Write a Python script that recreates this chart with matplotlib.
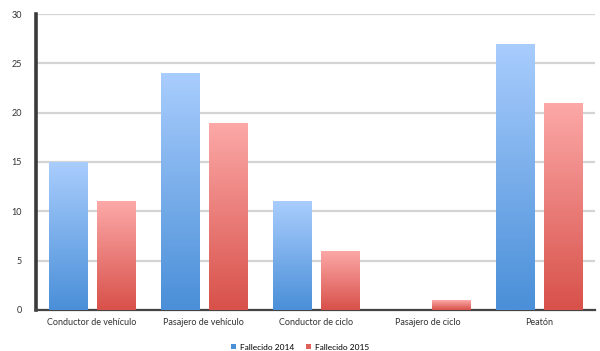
import numpy as np
import matplotlib
matplotlib.use("Agg")
import matplotlib.pyplot as plt
from matplotlib.colors import LinearSegmentedColormap

categories = ["Conductor de vehículo", "Pasajero de vehículo", "Conductor de ciclo",
              "Pasajero de ciclo", "Peatón"]
fallecido_2014 = [15, 24, 11, 0, 27]
fallecido_2015 = [11, 19, 6, 1, 21]
series_labels = ["Fallecido 2014", "Fallecido 2015"]
y_ticks = [0, 5, 10, 15, 20, 25, 30]

plt.rcParams["font.family"] = ["Lato", "DejaVu Sans"]

fig = plt.figure(figsize=(6.0, 3.51), dpi=100)
ax = fig.add_axes([0.06, 0.117, 0.932, 0.843])

x = np.arange(len(categories))
width = 0.34
offset = 0.215

blue_cmap = LinearSegmentedColormap.from_list("b", ["#4a8fd8", "#a9cdfd"])
red_cmap = LinearSegmentedColormap.from_list("r", ["#d8514a", "#fca9a8"])
grad = np.linspace(0, 1, 256).reshape(-1, 1)


def gradient_bars(xs, vals, cmap, color, label):
    bars = ax.bar(xs, vals, width, color=color, label=label, zorder=3)
    for b in bars:
        h = b.get_height()
        if h <= 0:
            continue
        x0 = b.get_x()
        im = ax.imshow(grad, cmap=cmap, origin="lower", aspect="auto",
                       extent=(x0, x0 + b.get_width(), 0, h), zorder=4,
                       interpolation="bilinear")
        im.set_clip_path(b)
    return bars


gradient_bars(x - offset, fallecido_2014, blue_cmap, "#4a8fd8", series_labels[0])
gradient_bars(x + offset, fallecido_2015, red_cmap, "#e0605a", series_labels[1])

ax.set_xlim(-0.5, len(categories) - 0.5)
ax.set_ylim(0, 30)
ax.set_yticks(y_ticks)
ax.set_xticks(x)
ax.set_xticklabels(categories)
ax.tick_params(axis="both", length=0, labelsize=6.5, colors="#333333")
ax.tick_params(axis="x", pad=6)
ax.tick_params(axis="y", pad=10)
ax.yaxis.grid(True, color="#d4d4d4", linewidth=1.6, zorder=0)
ax.set_axisbelow(True)
for s in ["top", "right"]:
    ax.spines[s].set_visible(False)
ax.spines["left"].set_color("#3a3a3a")
ax.spines["left"].set_linewidth(2.6)
ax.spines["bottom"].set_color("#444444")
ax.spines["bottom"].set_linewidth(1.6)

fig.legend(loc="lower center", bbox_to_anchor=(0.5, -0.02), ncol=2, frameon=False,
           fontsize=6, handlelength=0.6, handleheight=0.6, handletextpad=0.4,
           columnspacing=1.5)

fig.savefig("out.png", dpi=100)
